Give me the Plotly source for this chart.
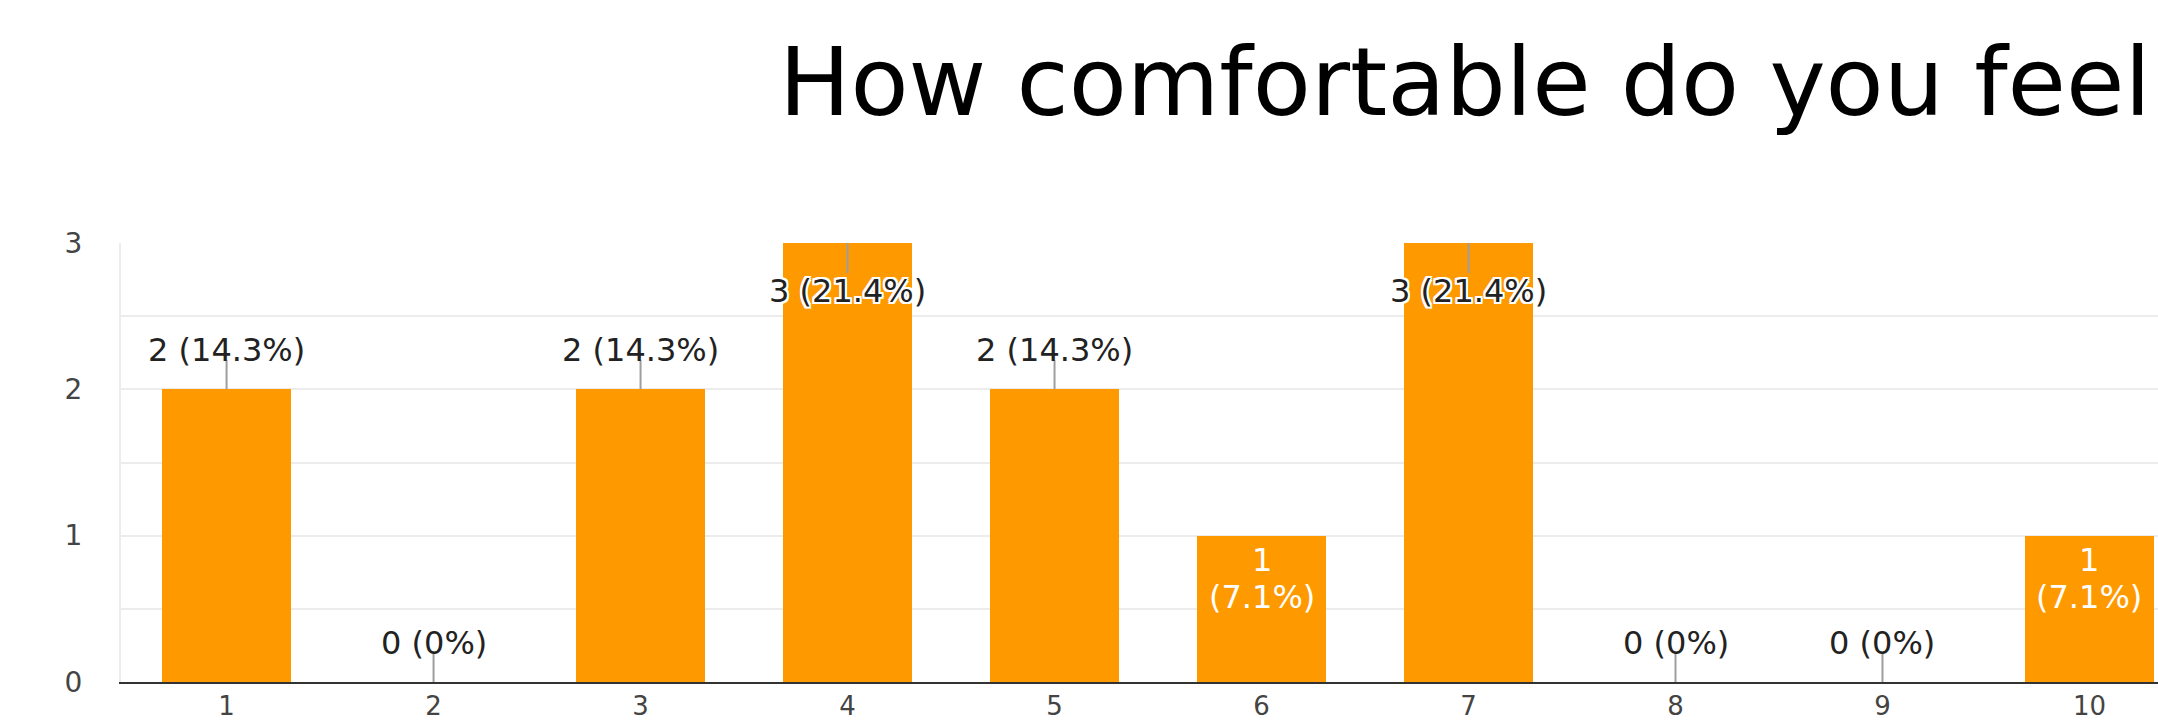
import plotly.graph_objects as go

categories = [1, 2, 3, 4, 5, 6, 7, 8, 9, 10]
counts = [2, 0, 2, 3, 2, 1, 3, 0, 0, 1]
title_text = "How comfortable do you feel"
y_ticks = [0, 1, 2, 3]

total = sum(counts)
BAR = "#FF9900"
TXT = "#222222"
FONT = "DejaVu Sans, Verdana, sans-serif"


def pct(v):
    p = round(v / total * 100, 1)
    s = f"{p:.1f}"
    if s.endswith(".0"):
        s = s[:-2]
    return s + "%"


fig = go.Figure()
fig.add_trace(go.Bar(x=categories, y=counts, width=0.623, marker=dict(color=BAR, line=dict(width=0)),
                     hoverinfo="skip"))

ymax = max(counts)
annotations = []
shapes = []
LBL = dict(family=FONT, size=32)
HALO = ("-2px -2px 0 #fff, 2px -2px 0 #fff, -2px 2px 0 #fff, 2px 2px 0 #fff, "
        "0 2px 0 #fff, 0 -2px 0 #fff, 2px 0 0 #fff, -2px 0 0 #fff")
for c, v in zip(categories, counts):
    if v == ymax:
        annotations.append(dict(x=c, y=v, xref="x", yref="y", text=f"{v} ({pct(v)})", showarrow=False,
                                yshift=-48, font=dict(LBL, color=TXT, shadow=HALO)))
        shapes.append(dict(type="line", xref="x", yref="y", ysizemode="pixel", yanchor=v,
                           x0=c, x1=c, y0=0, y1=-30, line=dict(color="#9e9e9e", width=2), layer="above"))
    elif v == 1:
        annotations.append(dict(x=c, y=v, xref="x", yref="y", text=f"{v}", showarrow=False,
                                yshift=-24, font=dict(LBL, color="#ffffff")))
        annotations.append(dict(x=c, y=v, xref="x", yref="y", text=f"({pct(v)})", showarrow=False,
                                yshift=-61, font=dict(LBL, color="#ffffff")))
    else:
        annotations.append(dict(x=c, y=v, xref="x", yref="y", text=f"{v} ({pct(v)})", showarrow=False,
                                yshift=39, font=dict(LBL, color=TXT)))
        shapes.append(dict(type="line", xref="x", yref="y", ysizemode="pixel", yanchor=v,
                           x0=c, x1=c, y0=0, y1=29, line=dict(color="#9e9e9e", width=2), layer="above"))

fig.update_layout(
    width=2158, height=725,
    margin=dict(l=121, r=0, t=243, b=43, pad=0, autoexpand=False),
    paper_bgcolor="white", plot_bgcolor="white",
    showlegend=False,
    title=dict(text=title_text, xref="container", yref="container", x=779 / 2158, xanchor="left",
               y=1 - 82 / 725, yanchor="middle", automargin=False,
               font=dict(family="DejaVu Sans", size=95, color="#000000")),
    xaxis=dict(range=[0.49, 10.331], tickvals=categories, ticktext=[str(c) for c in categories],
               showgrid=False, zeroline=False, showline=True, linecolor="#333333", linewidth=2,
               ticks="", ticklabelstandoff=0, automargin=False,
               tickfont=dict(family=FONT, size=26, color="#444444")),
    yaxis=dict(range=[0, 3], tickvals=y_ticks, showgrid=True, gridcolor="#ececec", gridwidth=2,
               zeroline=False, showline=True, linecolor="#ececec", linewidth=2, mirror=False,
               minor=dict(dtick=0.5, showgrid=True, gridcolor="#ececec", gridwidth=2),
               ticks="", ticklabelstandoff=31, automargin=False,
               tickfont=dict(family=FONT, size=28, color="#444444")),
    annotations=annotations,
    shapes=shapes,
    bargap=0,
)

fig.write_html("out.html")
